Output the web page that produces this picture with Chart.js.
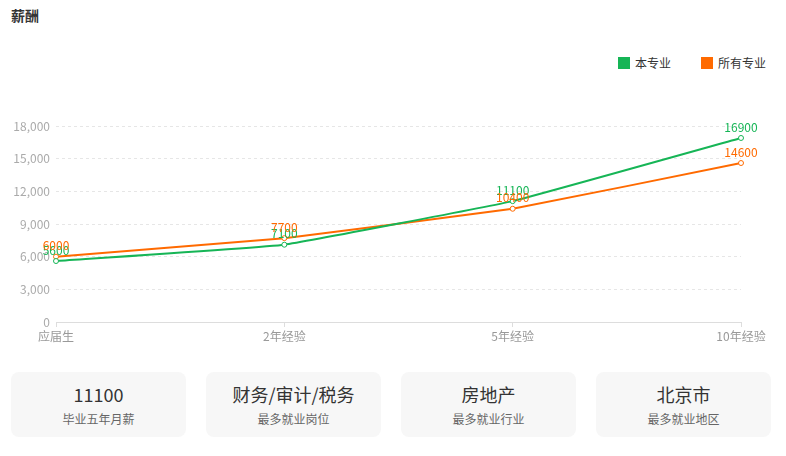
<!DOCTYPE html>
<html>
<head>
<meta charset="utf-8">
<script src="https://cdn.jsdelivr.net/npm/chart.js@4/dist/chart.umd.min.js"></script>
<style>
  html, body { margin: 0; padding: 0; background: #fff; }
  body { width: 786px; height: 456px; position: relative; overflow: hidden;
         font-family: "Noto Sans CJK SC", "Noto Sans", sans-serif; }
  .title { position: absolute; left: 11px; top: 5px; font-size: 14px; font-weight: bold; color: #333; }
  .legend .item { position: absolute; top: 54px; display: flex; align-items: center;
                  white-space: nowrap; font-size: 12px; color: #333; }
  .legend .sw { width: 12px; height: 12px; margin-right: 5px; flex: none; }
  #wrap { position: absolute; left: 0; top: 110px; width: 786px; height: 240px; }
  .cards { position: absolute; top: 372px; left: 11px; }
  .card { position: absolute; top: 0; width: 175px; height: 65px; background: #f7f7f7; border-radius: 8px; text-align: center; }
  .card .big { font-size: 18px; color: #333; margin-top: 10px; line-height: 24px; }
  .card .small { font-size: 12px; color: #666; margin-top: 5px; line-height: 16px; }
</style>
</head>
<body>
<div class="title">薪酬</div>
<div class="legend" id="legend"></div>
<div id="wrap"><canvas id="c" width="786" height="240"></canvas></div>
<div class="cards" id="cards"></div>
<script>
const categories = ["应届生", "2年经验", "5年经验", "10年经验"];
const majorSalary = [5600, 7100, 11100, 16900];
const allSalary = [6000, 7700, 10400, 14600];
const yTicks = [0, 3000, 6000, 9000, 12000, 15000, 18000];
const seriesNames = ["本专业", "所有专业"];
const seriesColors = ["#16b556", "#ff6a00"];
const cardValues = ["11100", "财务/审计/税务", "房地产", "北京市"];
const cardLabels = ["毕业五年月薪", "最多就业岗位", "最多就业行业", "最多就业地区"];

// legend
const legend = document.getElementById('legend');
const legendLeft = [618, 701];
seriesNames.forEach((n, i) => {
  const it = document.createElement('div');
  it.className = 'item';
  it.style.left = legendLeft[i] + 'px';
  it.innerHTML = '<span class="sw" style="background:' + seriesColors[i] + '"></span>' + n;
  legend.appendChild(it);
});

// summary cards
const cards = document.getElementById('cards');
cardValues.forEach((v, i) => {
  const c = document.createElement('div');
  c.className = 'card';
  c.style.left = (i * 195) + 'px';
  c.innerHTML = '<div class="big">' + v + '</div><div class="small">' + cardLabels[i] + '</div>';
  cards.appendChild(c);
});

// value labels above each point
const valueLabels = {
  id: 'valueLabels',
  afterDatasetsDraw(chart) {
    const ctx = chart.ctx;
    ctx.save();
    ctx.font = '12px "Noto Sans CJK SC", "Noto Sans", sans-serif';
    ctx.textAlign = 'center';
    ctx.textBaseline = 'bottom';
    chart.data.datasets.forEach((ds, di) => {
      const meta = chart.getDatasetMeta(di);
      ctx.fillStyle = ds.borderColor;
      meta.data.forEach((pt, i) => {
        ctx.fillText(String(ds.data[i]), pt.x, pt.y - 5);
      });
    });
    ctx.restore();
  }
};

const tickFont = { family: '"Noto Sans CJK SC", "Noto Sans", sans-serif', size: 12 };

new Chart(document.getElementById('c'), {
  type: 'line',
  data: {
    labels: categories,
    datasets: [
      { label: seriesNames[0], data: majorSalary, borderColor: seriesColors[0], backgroundColor: '#fff',
        borderWidth: 2, pointRadius: 2.5, pointBorderWidth: 1, pointBackgroundColor: '#fff',
        pointBorderColor: seriesColors[0], tension: 0.08, fill: false },
      { label: seriesNames[1], data: allSalary, borderColor: seriesColors[1], backgroundColor: '#fff',
        borderWidth: 2, pointRadius: 2.5, pointBorderWidth: 1, pointBackgroundColor: '#fff',
        pointBorderColor: seriesColors[1], tension: 0.08, fill: false }
    ]
  },
  options: {
    responsive: false,
    animation: false,
    layout: { padding: { left: 0, right: 45, top: 16, bottom: 0 } },
    plugins: { legend: { display: false }, tooltip: { enabled: false } },
    scales: {
      x: {
        offset: false,
        grid: { display: true, drawOnChartArea: false, drawTicks: true, tickLength: 5, color: '#ddd' },
        border: { display: true, color: '#ddd' },
        ticks: { color: '#999', font: tickFont, padding: 2, maxRotation: 0, autoSkip: false },
        afterFit(scale) { scale.height = 28; }
      },
      y: {
        min: 0, max: 18000,
        afterBuildTicks(scale) { scale.ticks = yTicks.map(v => ({ value: v })); },
        grid: { color: '#e6e6e6', drawTicks: false },
        border: { display: false, dash: [3, 3] },
        ticks: { color: '#aaa', font: tickFont, padding: 6,
                 callback: v => v.toLocaleString('en-US') },
        afterFit(scale) { scale.width = 56; }
      }
    }
  },
  plugins: [valueLabels]
});
</script>
</body>
</html>
